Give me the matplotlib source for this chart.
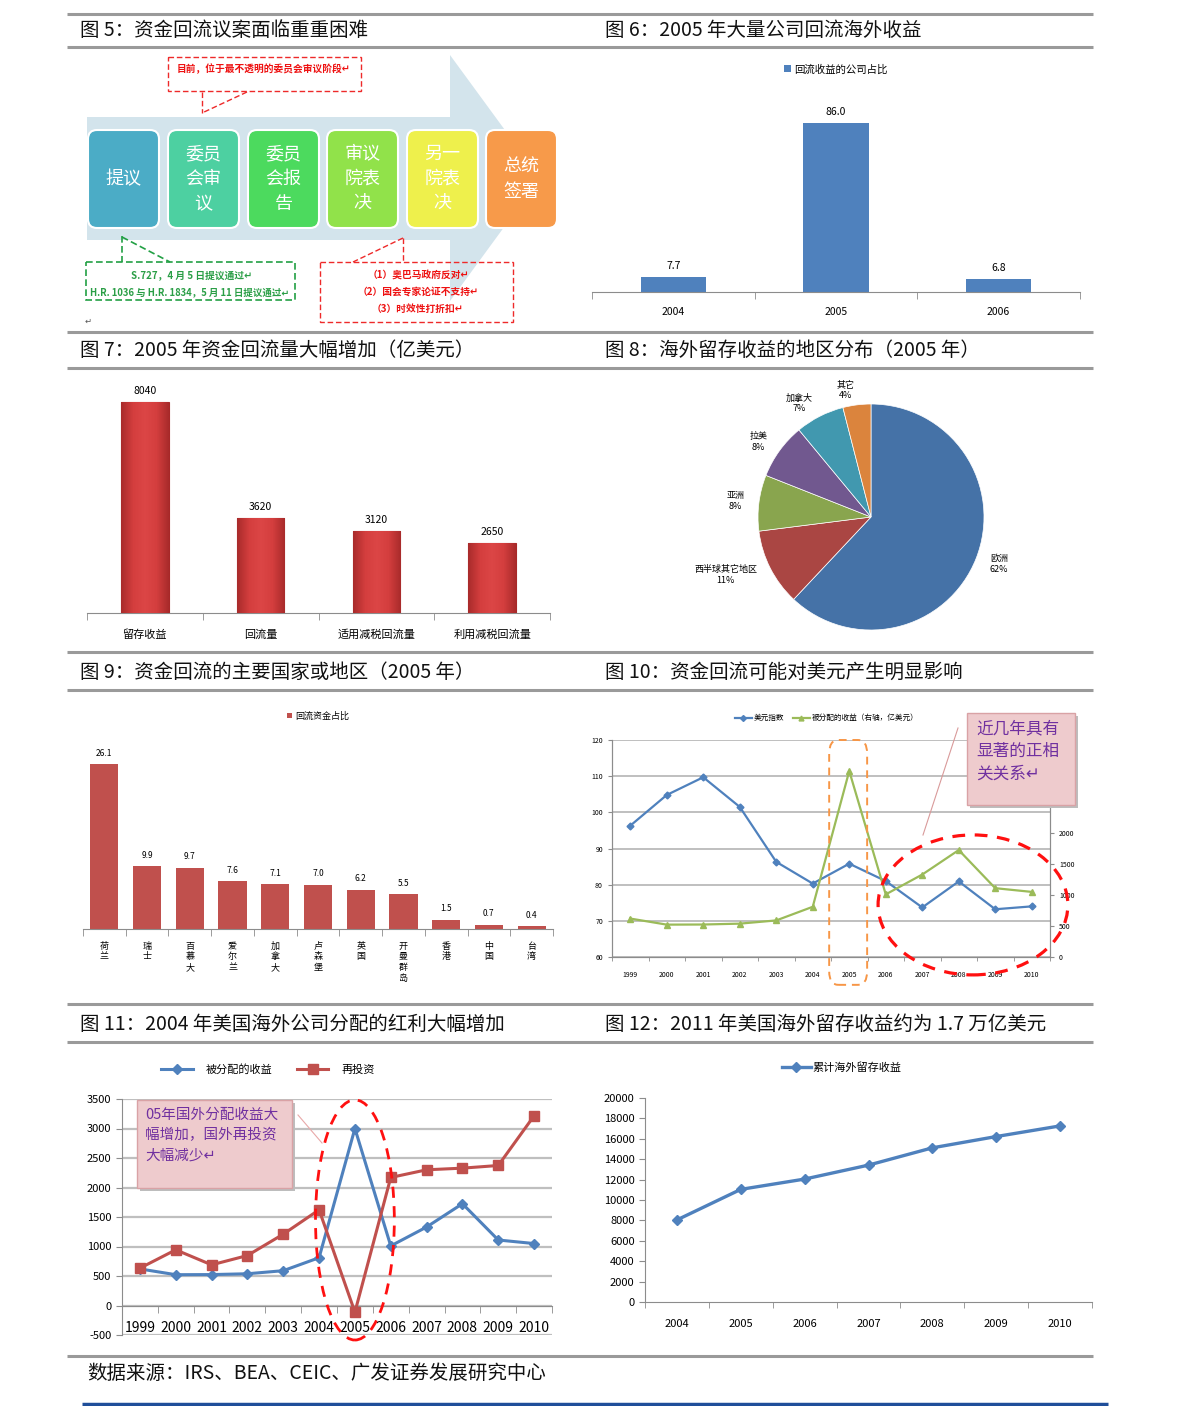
import numpy as np
import matplotlib
matplotlib.use("Agg")
import matplotlib.pyplot as plt
from matplotlib.patches import Rectangle, FancyBboxPatch, Polygon, Ellipse
from matplotlib.lines import Line2D
from matplotlib.colors import LinearSegmentedColormap

plt.rcParams['font.family'] = ['Noto Sans CJK SC', 'DejaVu Sans']
plt.rcParams['axes.unicode_minus'] = False

# ---- data ----
fig6_years = ['2004', '2005', '2006']
fig6_share = [7.7, 86.0, 6.8]

fig7_items = ['留存收益', '回流量', '适用减税回流量', '利用减税回流量']
fig7_values = [8040, 3620, 3120, 2650]

fig8_regions = ['欧洲', '西半球其它地区', '亚洲', '拉美', '加拿大', '其它']
fig8_share = [62, 11, 8, 8, 7, 4]

fig9_places = ['荷兰', '瑞士', '百慕大', '爱尔兰', '加拿大', '卢森堡', '英国', '开曼群岛', '香港', '中国', '台湾']
fig9_share = [26.1, 9.9, 9.7, 7.6, 7.1, 7.0, 6.2, 5.5, 1.5, 0.7, 0.4]

years = ['1999', '2000', '2001', '2002', '2003', '2004', '2005', '2006', '2007', '2008', '2009', '2010']
usd_index = [96.3, 104.8, 109.7, 101.5, 86.3, 80.3, 85.8, 81.0, 73.7, 80.9, 73.2, 74.0]
distributed = [620, 522, 524, 538, 590, 810, 3000, 1010, 1330, 1725, 1110, 1050]
reinvested = [633, 944, 689, 847, 1209, 1622, -113, 2170, 2300, 2328, 2373, 3215]

fig12_years = ['2004', '2005', '2006', '2007', '2008', '2009', '2010']
retained_cum = [8046, 11042, 12052, 13420, 15114, 16221, 17264]

BLUE = '#4f81bd'
RED = '#c0504d'
GREEN = '#9bbb59'
GRID = '#bfbfbf'
AXIS = '#8c8c8c'

W, H = 1191, 1406
fig = plt.figure(figsize=(W / 100, H / 100), dpi=100)


def px_axes(x0, y0, x1, y1):
    return fig.add_axes([x0 / W, 1 - y1 / H, (x1 - x0) / W, (y1 - y0) / H])


def cat_axis(ax, n):
    # category labels centred, tick marks between categories
    ax.set_xlim(-0.5, n - 0.5)
    ax.set_xticks(np.arange(n))
    ax.set_xticks(np.arange(n + 1) - 0.5, minor=True)
    ax.tick_params(axis='x', which='major', length=0)
    ax.tick_params(axis='x', which='minor', length=5, color=AXIS, direction='out')
    for s in ['top', 'right', 'left']:
        ax.spines[s].set_visible(False)
    ax.spines['bottom'].set_color(AXIS)
    ax.set_yticks([])


# ---- page frame, titles, fig 5 diagram (pixel overlay) ----
ov = fig.add_axes([0, 0, 1, 1])
ov.set_xlim(0, W)
ov.set_ylim(H, 0)
ov.axis('off')

for y in [14, 47, 332, 368, 652, 690, 1004, 1042, 1356]:
    ov.plot([67, 1093], [y, y], color='#9a9a9a', lw=2.2, solid_capstyle='butt')
ov.plot([82, 1108], [1404, 1404], color='#1f4e9a', lw=2.5, solid_capstyle='butt')

titles = [
    (80, 31, '图 5：资金回流议案面临重重困难'),
    (605, 31, '图 6：2005 年大量公司回流海外收益'),
    (80, 351, '图 7：2005 年资金回流量大幅增加（亿美元）'),
    (605, 351, '图 8：海外留存收益的地区分布（2005 年）'),
    (80, 672, '图 9：资金回流的主要国家或地区（2005 年）'),
    (605, 672, '图 10：资金回流可能对美元产生明显影响'),
    (80, 1024, '图 11：2004 年美国海外公司分配的红利大幅增加'),
    (605, 1024, '图 12：2011 年美国海外留存收益约为 1.7 万亿美元'),
]
for x, y, t in titles:
    ov.text(x, y, t, fontsize=14, va='center', ha='left', color='#111111')
ov.text(87, 1373, '数据来源：IRS、BEA、CEIC、广发证券发展研究中心', fontsize=14,
        va='center', ha='left', color='#111111')

# big arrow behind the steps
ov.add_patch(Polygon([(87, 117), (450, 117), (450, 55), (540, 178), (450, 301),
                      (450, 240), (87, 240)], closed=True, color='#d3e4ec', lw=0))

steps = ['提议', '委员\n会审\n议', '委员\n会报\n告', '审议\n院表\n决', '另一\n院表\n决', '总统\n签署']
step_colors = ['#4bacc6', '#4dd0a1', '#4cda5e', '#91e24a', '#eef04c', '#f79a4a']
step_x = [88, 168, 248, 327, 407, 486]
for x, label, c in zip(step_x, steps, step_colors):
    ov.add_patch(FancyBboxPatch((x, 130), 71, 98, boxstyle='round,pad=0,rounding_size=9',
                                facecolor=c, edgecolor='white', lw=1.5))
    ov.text(x + 35.5, 179, label, color='white', fontsize=13, ha='center', va='center',
            linespacing=1.5)

dash = (0, (4, 2))
ov.add_patch(Rectangle((168, 57), 193, 34, fill=False, edgecolor='#ee2a2a', lw=1, ls=dash))
ov.plot([202, 202], [92, 113], color='#ee2a2a', lw=1, ls=dash)
ov.plot([247, 202], [92, 113], color='#ee2a2a', lw=1, ls=dash)
ov.text(264, 69, '目前，位于最不透明的委员会审议阶段↵', color='#ee1111', fontsize=7,
        fontweight='bold', ha='center', va='center')

ov.add_patch(Rectangle((86, 262), 209, 38, fill=False, edgecolor='#22a044', lw=1.2, ls=dash))
ov.plot([122, 122], [236, 262], color='#22a044', lw=1.2, ls=dash)
ov.plot([122, 170], [237, 262], color='#22a044', lw=1.2, ls=dash)
ov.text(192, 275, 'S.727，4 月 5 日提议通过↵', color='#2a9e46', fontsize=7,
        fontweight='bold', ha='center', va='center')
ov.text(190, 292, 'H.R. 1036 与 H.R. 1834，5 月 11 日提议通过↵', color='#2a9e46', fontsize=6.8,
        fontweight='bold', ha='center', va='center')

ov.add_patch(Rectangle((320, 262), 193, 60, fill=False, edgecolor='#ee2a2a', lw=1, ls=dash))
ov.plot([403, 403], [238, 262], color='#ee2a2a', lw=1, ls=dash)
ov.plot([403, 353], [238, 262], color='#ee2a2a', lw=1, ls=dash)
for y, t in zip([275, 292, 309], ['（1）奥巴马政府反对↵', '（2）国会专家论证不支持↵', '（3）时效性打折扣↵']):
    ov.text(418, y, t, color='#ee1111', fontsize=7, fontweight='bold', ha='center', va='center')
ov.text(88, 321, '↵', fontsize=6, color='#555555', ha='center', va='center')

# ---- fig 6 ----
ax6 = px_axes(592, 60, 1080, 292)
ax6.patch.set_alpha(0)
ax6.bar(range(3), fig6_share, width=0.4, color=BLUE, label='回流收益的公司占比')
cat_axis(ax6, 3)
ax6.set_ylim(0, 118)
ax6.set_xticklabels(fig6_years, fontsize=7.5)
ax6.tick_params(axis='x', which='major', pad=11)
for i, v in enumerate(fig6_share):
    ax6.text(i, v + 3, f'{v:.1f}', ha='center', va='bottom', fontsize=7.5)
ax6.legend(loc='center', bbox_to_anchor=(0.5, 0.96), frameon=False, fontsize=7.5,
           handlelength=0.7, handleheight=0.7, handletextpad=0.3)

# ---- fig 7 ----
ax7 = px_axes(87, 380, 550, 613)
ax7.patch.set_alpha(0)
bars7 = ax7.bar(range(4), fig7_values, width=0.41, color='#d03c3c', edgecolor='#a82828', lw=0.8)
bevel = LinearSegmentedColormap.from_list('bevel', ['#a92b2b', '#d43e3e', '#dc4646', '#d43e3e', '#a92b2b'])
shade = np.linspace(0, 1, 64).reshape(1, -1)
for b in bars7:
    im = ax7.imshow(shade, extent=[b.get_x(), b.get_x() + b.get_width(), 0, b.get_height()],
                    aspect='auto', cmap=bevel, zorder=3)
    im.set_clip_path(b)
cat_axis(ax7, 4)
ax7.set_ylim(0, 8876)
ax7.set_xticklabels(fig7_items, fontsize=8)
ax7.tick_params(axis='x', which='major', pad=12)
for i, v in enumerate(fig7_values):
    ax7.text(i, v + 230, str(v), ha='center', va='bottom', fontsize=7.5)

# ---- fig 8 ----
ax8 = px_axes(758, 404, 984, 630)
pie_colors = ['#4572a7', '#aa4643', '#89a54e', '#71588f', '#4198af', '#db843d']
labels8 = [f'{r}\n{v}%' for r, v in zip(fig8_regions, fig8_share)]
wedges, texts = ax8.pie(fig8_share, labels=labels8, colors=pie_colors, startangle=90,
                        counterclock=False, labeldistance=1.13,
                        wedgeprops=dict(edgecolor='white', linewidth=0.5),
                        textprops=dict(fontsize=6.5))
for t in texts:
    t.set_multialignment('center')
ax8.set_xlim(-1, 1)
ax8.set_ylim(-1, 1)
ax8.set_aspect('equal')

# ---- fig 9 ----
ax9 = px_axes(83, 700, 553, 929)
ax9.patch.set_alpha(0)
ax9.bar(range(11), fig9_share, width=0.66, color=RED, label='回流资金占比')
cat_axis(ax9, 11)
ax9.set_ylim(0, 36.2)
ax9.set_xticklabels(['\n'.join(p) for p in fig9_places], fontsize=6.5, linespacing=1.25, va='top')
ax9.tick_params(axis='x', which='major', pad=9)
for i, v in enumerate(fig9_share):
    ax9.text(i, v + 1.0, f'{v:.1f}', ha='center', va='bottom', fontsize=6)
ax9.legend(loc='center', bbox_to_anchor=(0.5, 1 - 16 / 229), frameon=False, fontsize=6.5,
           handlelength=0.6, handleheight=0.6, handletextpad=0.3)

# ---- fig 10 ----
ax10 = px_axes(612, 740, 1050, 957)
ax10.patch.set_alpha(0)
ax10b = ax10.twinx()
x12 = np.arange(12)
ax10.plot(x12, usd_index, color=BLUE, lw=1.6, marker='D', ms=3.5, zorder=4)
ax10b.plot(x12, distributed, color=GREEN, lw=1.6, marker='^', ms=4, zorder=4)
ax10.set_ylim(60, 120)
ax10.set_yticks(range(60, 121, 10))
ax10b.set_ylim(0, 3500)
ax10b.set_yticks(range(0, 2001, 500))
ax10.grid(axis='y', color=GRID, lw=1.4)
ax10.set_axisbelow(True)
ax10.set_xlim(-0.5, 11.5)
ax10.set_xticks(x12)
ax10.set_xticks(np.arange(13) - 0.5, minor=True)
ax10.set_xticklabels(years, fontsize=5)
ax10.tick_params(axis='x', which='major', length=0, pad=10)
ax10.tick_params(axis='x', which='minor', length=3, color=AXIS)
ax10.tick_params(axis='y', labelsize=5, length=3, color=AXIS)
ax10b.tick_params(axis='y', labelsize=5, length=3, color=AXIS)
for a in (ax10, ax10b):
    a.spines['top'].set_visible(False)
    for s in ['left', 'right', 'bottom']:
        a.spines[s].set_color(AXIS)
h10 = [Line2D([], [], color=BLUE, lw=1.6, marker='D', ms=3),
       Line2D([], [], color=GREEN, lw=1.6, marker='^', ms=3.5)]
ax10.legend(h10, ['美元指数', '被分配的收益（右轴，亿美元）'], loc='center',
            bbox_to_anchor=(0.49, 1.10), ncol=2, frameon=False, fontsize=5.5,
            handlelength=2.2, columnspacing=1.2, handletextpad=0.2)
ell10 = Ellipse((9.39, 74.4), 5.2, 38.7, fill=False, edgecolor='#ff1010', lw=2.3,
                ls=(0, (4, 3)), clip_on=False, zorder=6, transform=ax10.transData)
ax10b.add_patch(ell10)
rect10 = FancyBboxPatch((5.45, 52.3), 1.04, 67.7, boxstyle='round,pad=0,rounding_size=0.25',
                        fill=False, edgecolor='#f79646', lw=1.4, ls=(0, (4, 3)),
                        clip_on=False, zorder=6, mutation_aspect=15, transform=ax10.transData)
ax10b.add_patch(rect10)

# ---- fig 11 ----
ax11 = px_axes(122, 1099, 552, 1335)
ax11.patch.set_alpha(0)
ax11.plot(x12, distributed, color=BLUE, lw=2.2, marker='D', ms=5, label='被分配的收益', zorder=4)
ax11.plot(x12, reinvested, color=RED, lw=2.2, marker='s', ms=6.5, label='再投资', zorder=4)
ax11.set_ylim(-500, 3500)
ax11.set_yticks(range(-500, 3501, 500))
ax11.grid(axis='y', color=GRID, lw=1.6)
ax11.set_axisbelow(True)
ax11.set_xlim(-0.5, 11.5)
ax11.set_xticks(x12)
ax11.set_xticks(np.arange(13) - 0.5, minor=True)
ax11.set_xticklabels(years, fontsize=8)
ax11.spines['bottom'].set_position(('data', 0))
ax11.tick_params(axis='x', which='major', length=0, pad=11)
ax11.tick_params(axis='x', which='minor', length=5, color=AXIS)
ax11.tick_params(axis='y', labelsize=8, length=4, color=AXIS)
for s in ['top', 'right']:
    ax11.spines[s].set_visible(False)
for s in ['left', 'bottom']:
    ax11.spines[s].set_color(AXIS)
ax11.legend(loc='center', bbox_to_anchor=(0.34, 1.125), ncol=2, frameon=False, fontsize=8,
            handlelength=2.8, columnspacing=2.2, handletextpad=1.2)
ax11.add_patch(Ellipse((6.0, 1450), 2.2, 4070, fill=False, edgecolor='#ff1010', lw=2,
                       ls=(0, (4, 3)), clip_on=False, zorder=6))

# ---- fig 12 ----
ax12 = px_axes(645, 1098, 1092, 1302)
ax12.patch.set_alpha(0)
x7 = np.arange(7)
ax12.plot(x7, retained_cum, color=BLUE, lw=2.4, marker='D', ms=5.5, label='累计海外留存收益')
ax12.set_ylim(0, 20000)
ax12.set_yticks(range(0, 20001, 2000))
ax12.set_xlim(-0.5, 6.5)
ax12.set_xticks(x7)
ax12.set_xticks(np.arange(8) - 0.5, minor=True)
ax12.set_xticklabels(fig12_years, fontsize=8)
ax12.tick_params(axis='x', which='major', length=0, pad=12)
ax12.tick_params(axis='x', which='minor', length=4, color=AXIS)
ax12.tick_params(axis='y', labelsize=8, length=4, color=AXIS)
for s in ['top', 'right']:
    ax12.spines[s].set_visible(False)
for s in ['left', 'bottom']:
    ax12.spines[s].set_color(AXIS)
ax12.legend(loc='center', bbox_to_anchor=(0.44, 1.15), frameon=False, fontsize=8,
            handlelength=2.6, handletextpad=0.2)

# ---- callout boxes on top ----
top = fig.add_axes([0, 0, 1, 1])
top.set_xlim(0, W)
top.set_ylim(H, 0)
top.axis('off')
top.patch.set_alpha(0)

for (x0, y0, w, h) in [(967, 713, 108, 92), (137, 1100, 155, 88)]:
    top.add_patch(Rectangle((x0 + 3, y0 + 3), w, h, color='#bdbdbd', lw=0))
    top.add_patch(Rectangle((x0, y0), w, h, facecolor='#eecbcd', edgecolor='#d9a2a5', lw=1))
top.text(976, 720, '近几年具有\n显著的正相\n关关系↵', color='#7030a0', fontsize=12,
         ha='left', va='top', linespacing=1.45)
top.text(145, 1108, '05年国外分配收益大\n幅增加，国外再投资\n大幅减少↵', color='#7030a0',
         fontsize=10.5, ha='left', va='top', linespacing=1.55)
top.plot([958, 923], [728, 835], color='#d99a9a', lw=0.8)
top.plot([298, 322], [1115, 1143], color='#e8a8a8', lw=0.8)

fig.savefig('out.png', dpi=100)
